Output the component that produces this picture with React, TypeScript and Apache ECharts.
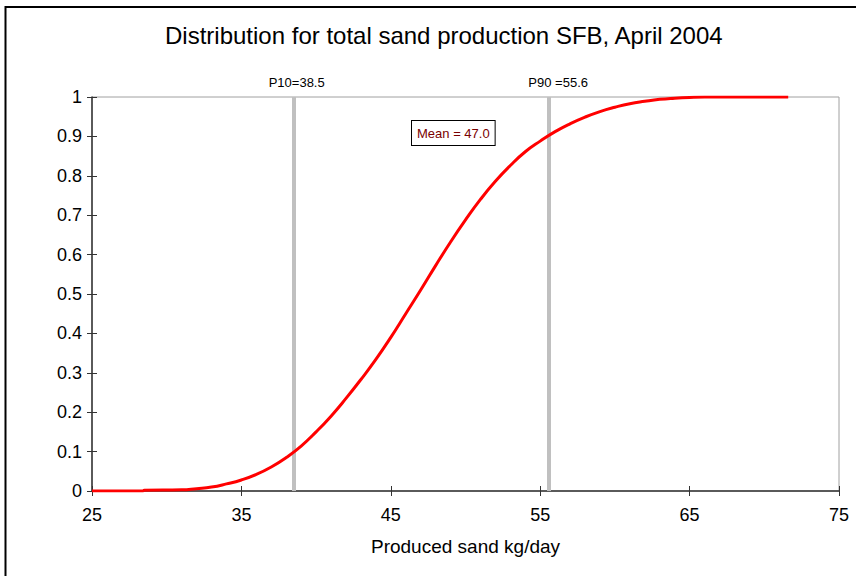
import React, { useEffect, useRef } from "react";
import * as echarts from "echarts";

const titleText = "Distribution for total sand production SFB, April 2004";
const xAxisName = "Produced sand kg/day";
const xTicks = [25, 35, 45, 55, 65, 75];
const sandValues = [25, 28.4, 28.5, 31, 32, 33, 34, 35, 36, 37, 38, 39, 40, 41, 42, 43, 44, 45, 46, 47, 48, 49, 50, 51, 52, 53, 54, 55, 56, 57, 58, 59, 60, 61, 62, 63, 64, 65, 66, 71.6];
const cumProb = [0, 0, 0.002, 0.003, 0.006, 0.01, 0.018, 0.028, 0.042, 0.061, 0.085, 0.114, 0.15, 0.19, 0.235, 0.283, 0.334, 0.39, 0.45, 0.51, 0.572, 0.632, 0.688, 0.74, 0.786, 0.826, 0.861, 0.888, 0.912, 0.932, 0.949, 0.963, 0.974, 0.983, 0.989, 0.994, 0.997, 0.999, 1, 1];
const p10 = 38.5;
const p90 = 55.6;
const meanValue = 47.0;

export default function App() {
  const ref = useRef<HTMLDivElement>(null);
  useEffect(() => {
    if (!ref.current) return;
    const chart = echarts.init(ref.current, null, { renderer: "svg" });
    const font = "'Liberation Sans', Arial, sans-serif";
    const data = sandValues.map((v, i) => [v, cumProb[i]]);
    const baseX = {
      type: "value",
      min: 25,
      max: 75,
      position: "bottom",
    };
    chart.setOption({
      animation: false,
      backgroundColor: "#ffffff",
      textStyle: { fontFamily: font },
      title: {
        text: titleText,
        left: 160,
        top: 18,
        textStyle: { fontSize: 24, fontWeight: "normal", color: "#000", fontFamily: font },
      },
      grid: {
        left: 92,
        right: 17,
        top: 97,
        bottom: 85,
        show: true,
        borderColor: "#a0a0a0",
        borderWidth: 1,
        backgroundColor: "transparent",
      },
      xAxis: [
        {
          ...baseX,
          name: xAxisName,
          nameLocation: "middle",
          nameGap: 46,
          nameTextStyle: { fontSize: 19, color: "#000", fontFamily: font },
          axisLine: { show: true, lineStyle: { color: "#333", width: 1.5 } },
          axisTick: { show: true, inside: false, length: 5, lineStyle: { color: "#333" }, customValues: xTicks },
          axisLabel: { fontSize: 18, color: "#000", margin: 15, customValues: xTicks, fontFamily: font },
          splitLine: { show: false },
        },
        {
          ...baseX,
          axisLine: { show: false },
          axisTick: { show: true, inside: true, length: 5, lineStyle: { color: "#333" }, customValues: xTicks },
          axisLabel: { show: false },
          splitLine: { show: false },
        },
      ],
      yAxis: [
        {
          type: "value",
          min: 0,
          max: 1,
          interval: 0.1,
          axisLine: { show: true, lineStyle: { color: "#333", width: 1.5 } },
          axisTick: { show: true, inside: false, length: 5, lineStyle: { color: "#333" } },
          axisLabel: { fontSize: 18, color: "#000", margin: 10, fontFamily: font },
          splitLine: { show: false },
        },
        {
          type: "value",
          min: 0,
          max: 1,
          interval: 0.1,
          position: "left",
          axisLine: { show: false },
          axisTick: { show: true, inside: true, length: 5, lineStyle: { color: "#333" } },
          axisLabel: { show: false },
          splitLine: { show: false },
        },
      ],
      series: [
        {
          type: "line",
          data,
          xAxisIndex: 0,
          yAxisIndex: 0,
          showSymbol: false,
          smooth: true,
          lineStyle: { color: "#ff0000", width: 3 },
          z: 3,
          markLine: {
            silent: true,
            symbol: "none",
            lineStyle: { color: "#c0c0c0", width: 4, type: "solid" },
            label: {
              show: true,
              position: "end",
              distance: 8,
              fontSize: 13,
              color: "#000",
              fontFamily: font,
            },
            data: [
              { xAxis: p10, label: { formatter: "P10=" + p10.toFixed(1), offset: [3, 0] } },
              { xAxis: p90, label: { formatter: "P90 =" + p90.toFixed(1), offset: [9, 0] } },
            ],
            z: 2,
          },
        },
      ],
      graphic: [
        {
          type: "rect",
          shape: { x: 5.5, y: 7, width: 900, height: 700 },
          style: { fill: "none", stroke: "#000", lineWidth: 2 },
          silent: true,
        },
        {
          type: "text",
          left: 411,
          top: 120,
          z: 10,
          style: {
            text: "Mean = " + meanValue.toFixed(1),
            fontSize: 13,
            fontFamily: font,
            fill: "#7a0000",
            backgroundColor: "#fff",
            borderColor: "#000",
            borderWidth: 1,
            padding: [6, 5, 5, 5],
          },
        },
      ],
    });
    return () => chart.dispose();
  }, []);
  return (
    <div
      ref={ref}
      style={{ position: "fixed", left: 0, top: 0, width: 856, height: 576 }}
    />
  );
}
